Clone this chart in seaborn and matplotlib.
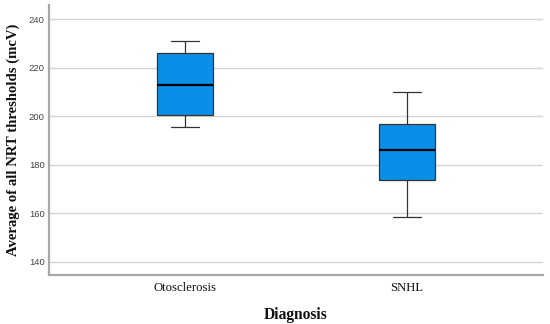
import matplotlib
matplotlib.use("Agg")
import matplotlib.pyplot as plt
import seaborn as sns
import pandas as pd

# Five-number summaries (min, Q1, median, Q3, max)
categories = ["Otosclerosis", "SNHL"]
otosclerosis = [195.6, 200.4, 213.0, 226.2, 231.3]
snhl = [158.7, 173.7, 186.2, 196.7, 210.1]
yticks = [140, 160, 180, 200, 220, 240]

df = pd.DataFrame({
    "Diagnosis": [categories[0]] * len(otosclerosis) + [categories[1]] * len(snhl),
    "value": otosclerosis + snhl,
})

sns.set_theme(style="white")
fig = plt.figure(figsize=(5.5, 3.24), dpi=100)
ax = fig.add_axes([0.089, 0.151, 0.898, 0.834])

ax.yaxis.grid(True, color="#d4d4d4", linewidth=1.0)
ax.set_axisbelow(True)

sns.boxplot(data=df, x="Diagnosis", y="value", order=categories, ax=ax,
            width=0.25, color="#0a8fe8", saturation=1,
            linecolor="#333333", linewidth=0.9, whis=1.5,
            medianprops=dict(color="#000000", linewidth=1.6),
            showfliers=False)

ax.set_xlim(-0.611, 1.611)
ax.set_ylim(134.6, 246)
ax.set_yticks(yticks)
ax.tick_params(axis="y", labelsize=6.8, labelcolor="#444444", length=0, pad=3)
ax.tick_params(axis="x", labelsize=9.2, labelcolor="#111111", length=0, pad=5)
for lab in ax.get_xticklabels():
    lab.set_family("Liberation Serif")
for lab in ax.get_yticklabels():
    lab.set_family("Liberation Sans")

ax.set_xlabel("Diagnosis", family="Liberation Serif", fontweight="bold",
              fontsize=11.2, labelpad=9, color="#111111")
ax.set_ylabel("Average of all NRT thresholds (mcV)", family="Liberation Serif",
              fontweight="bold", fontsize=10.6, labelpad=6, color="#111111")

for s in ["top", "right"]:
    ax.spines[s].set_visible(False)
for s in ["left", "bottom"]:
    ax.spines[s].set_color("#a8a8a8")
    ax.spines[s].set_linewidth(1.6)

fig.savefig("out.png", dpi=100)
